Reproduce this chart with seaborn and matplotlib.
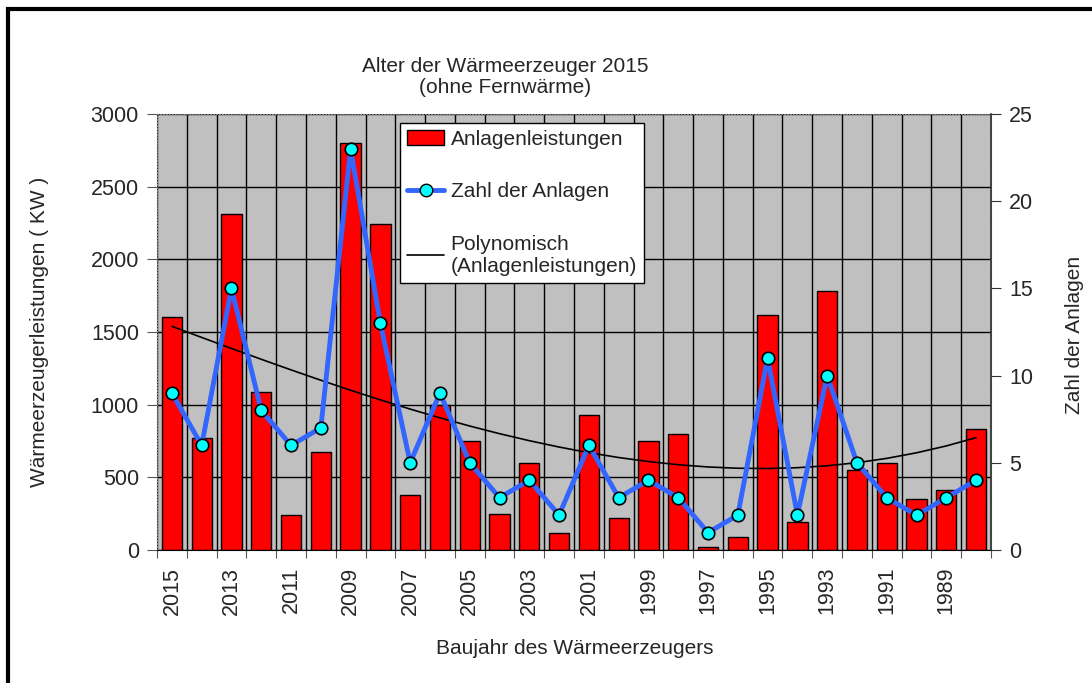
import numpy as np
import pandas as pd
import matplotlib
matplotlib.use("Agg")
import matplotlib.pyplot as plt
from matplotlib.lines import Line2D
from matplotlib.patches import Patch, Rectangle
import seaborn as sns

# === Daten ===
jahre = [str(j) for j in range(2015, 1987, -1)]
leistung = [1600, 770, 2310, 1090, 240, 675, 2800, 2240, 380, 1000,
            750, 250, 600, 120, 930, 220, 750, 800, 20, 90,
            1620, 190, 1780, 550, 600, 350, 410, 830]
anzahl = [9, 6, 15, 8, 6, 7, 23, 13, 5, 9,
          5, 3, 4, 2, 6, 3, 4, 3, 1, 2,
          11, 2, 10, 5, 3, 2, 3, 4]

df = pd.DataFrame({"Jahr": jahre, "Leistung": leistung, "Anzahl": anzahl})
idx = np.arange(len(df))

sns.set_style("white")
plt.rcParams["font.family"] = ["Liberation Sans", "DejaVu Sans"]
plt.rcParams["font.size"] = 15

fig = plt.figure(figsize=(10.92, 6.83), dpi=100)
ax = fig.add_axes([157 / 1092, 1 - 550 / 683, 834 / 1092, 436 / 683])
ax.set_facecolor("#c0c0c0")

sns.barplot(data=df, x="Jahr", y="Leistung", order=jahre, color="#ff0000",
            saturation=1, width=0.68, edgecolor="black", linewidth=1, ax=ax, zorder=2)

# Trendlinie (Polynom)
coef = np.polyfit(idx, df["Leistung"], 3)
trend = np.polyval(coef, idx)
ax.plot(idx, trend, color="black", lw=1.2, zorder=3)

ax.set_xlim(-0.5, len(df) - 0.5)
ax.set_ylim(0, 3000)
ax.set_yticks(np.arange(0, 3001, 500))
ax.set_xticks(np.arange(-0.5, len(df), 1.0))
ax.set_xticklabels([])
ax.set_xticks(idx[::2], minor=True)
ax.set_xticklabels(jahre[::2], minor=True, rotation=90, fontsize=15.5)
ax.tick_params(axis="x", which="minor", length=0, pad=12)
ax.tick_params(axis="x", which="major", length=6, direction="out", color="#555555", bottom=True)
ax.tick_params(axis="y", length=7, direction="out", color="#555555", left=True, pad=6, labelsize=15.5)
ax.grid(True, axis="y", color="black", lw=1)
ax.grid(True, axis="x", which="major", color="black", lw=1)
ax.set_axisbelow(True)
ax.set_xlabel("")
ax.set_ylabel("")
for s in ["top", "left", "right"]:
    ax.spines[s].set_color("#808080")
    ax.spines[s].set_linestyle(":")
ax.spines["bottom"].set_color("black")

# Zahl der Anlagen
ax2 = ax.twinx()
sns.lineplot(x=idx, y=df["Anzahl"], ax=ax2, sort=False, color="#3366ff", lw=3.5,
             marker="o", markersize=9, markerfacecolor="#00ffff",
             markeredgecolor="black", markeredgewidth=1.2, zorder=4)
ax2.set_ylim(0, 25)
ax2.set_yticks(np.arange(0, 26, 5))
ax2.set_ylabel("")
ax2.tick_params(axis="y", length=7, direction="out", right=True, pad=6, color="#333333", labelsize=15.5)
for s in ["top", "left", "bottom"]:
    ax2.spines[s].set_visible(False)
ax2.spines["right"].set_color("#333333")
ax2.spines["right"].set_linewidth(1.2)

handles = [Patch(facecolor="#ff0000", edgecolor="black"),
           Line2D([], [], color="#3366ff", lw=3.5, marker="o", markersize=9,
                  markerfacecolor="#00ffff", markeredgecolor="black"),
           Line2D([], [], color="black", lw=1.2)]
labels = ["Anlagenleistungen", "Zahl der Anlagen", "Polynomisch\n(Anlagenleistungen)"]
leg = ax2.legend(handles, labels, loc="upper left", bbox_to_anchor=(0.291, 0.980),
                 borderaxespad=0, fancybox=False, framealpha=1, edgecolor="black",
                 labelspacing=1.6, handlelength=1.8, handletextpad=0.3, borderpad=0.35,
                 fontsize=15)
leg.get_frame().set_linewidth(1)

fig.text(505 / 1092, 1 - 77 / 683, "Alter der Wärmeerzeuger 2015\n(ohne Fernwärme)",
         ha="center", va="center", linespacing=1.15, fontsize=15)
fig.text(40 / 1092, 1 - 332 / 683, "Wärmeerzeugerleistungen ( KW )", rotation=90,
         ha="center", va="center", fontsize=15)
fig.text(1074 / 1092, 1 - 335 / 683, "Zahl der Anlagen", rotation=90,
         ha="center", va="center", fontsize=15)
fig.text(575 / 1092, 1 - 648 / 683, "Baujahr des Wärmeerzeugers",
         ha="center", va="center", fontsize=15)

# Rahmen um das Diagramm
fig.patches.append(Rectangle((8 / 1092, -0.05), 1.2, 1 - 9 / 683 + 0.05, transform=fig.transFigure,
                             fill=False, edgecolor="black", lw=3))

fig.savefig("out.png", dpi=100)
